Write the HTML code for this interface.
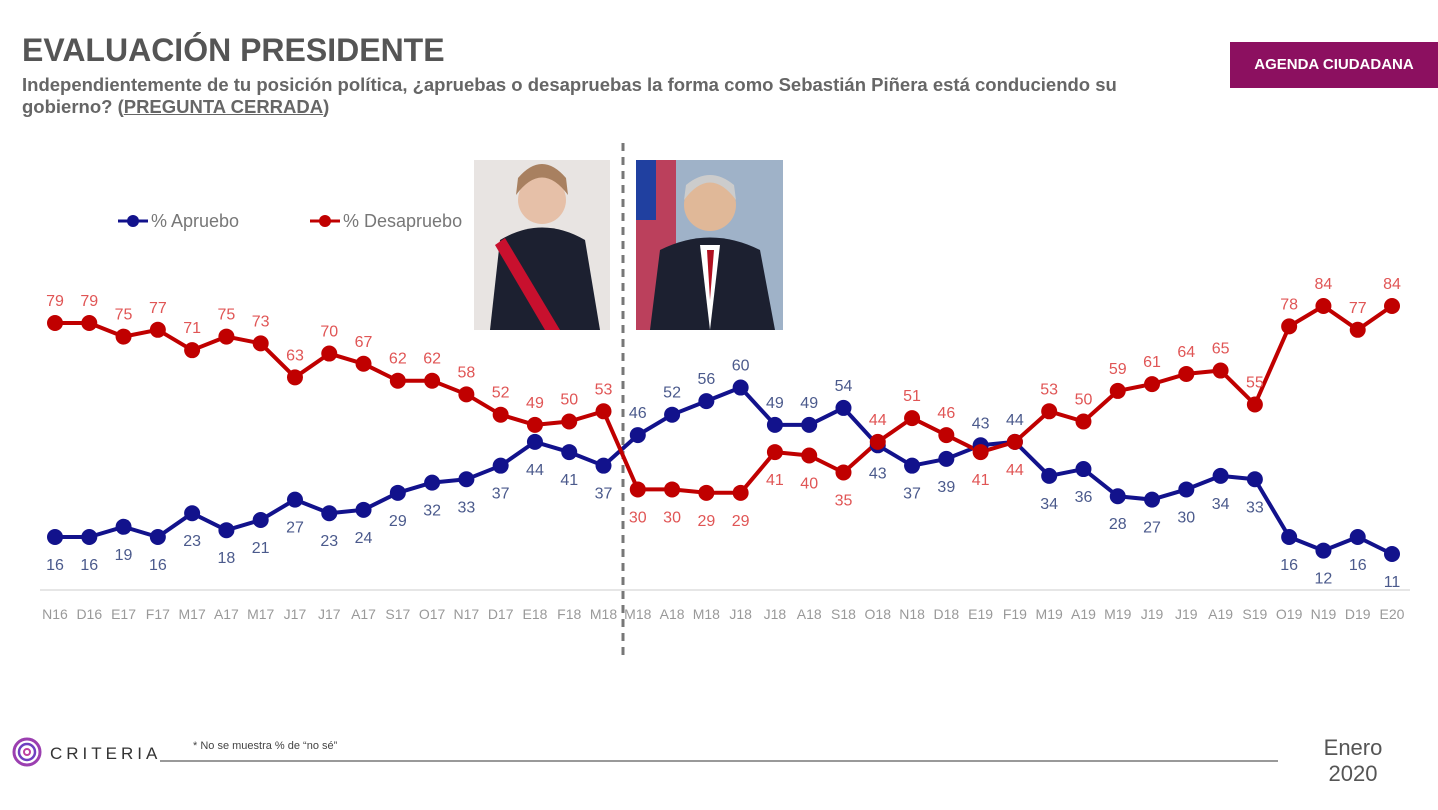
<!DOCTYPE html>
<html><head><meta charset="utf-8"><style>
body{margin:0;width:1438px;height:810px;background:#fff;font-family:"Liberation Sans",sans-serif;overflow:hidden;position:relative}
.t{position:absolute;left:22px;top:32px;font-size:32px;font-weight:bold;color:#555;letter-spacing:0px}
.s{position:absolute;left:22px;top:74px;font-size:18.5px;font-weight:bold;color:#666;line-height:22px;width:1140px}
.badge{position:absolute;left:1230px;top:42px;width:208px;height:46px;background:#8c1060;color:#fff;font-weight:bold;font-size:15px;line-height:46px;text-align:center}
</style></head><body>
<div class="t">EVALUACIÓN PRESIDENTE</div>
<div class="s">Independientemente de tu posición política, ¿apruebas o desapruebas la forma como Sebastián Piñera está conduciendo su gobierno? (<u>PREGUNTA CERRADA</u>)</div>
<div class="badge">AGENDA CIUDADANA</div>
<svg id="c" width="1438" height="810" style="position:absolute;left:0;top:0"></svg>
<script>
const A=[16,16,19,16,23,18,21,27,23,24,29,32,33,37,44,41,37,46,52,56,60,49,49,54,43,37,39,43,44,34,36,28,27,30,34,33,16,12,16,11];
const D=[79,79,75,77,71,75,73,63,70,67,62,62,58,52,49,50,53,30,30,29,29,41,40,35,44,51,46,41,44,53,50,59,61,64,65,55,78,84,77,84];
const L="N16 D16 E17 F17 M17 A17 M17 J17 J17 A17 S17 O17 N17 D17 E18 F18 M18 M18 A18 M18 J18 J18 A18 S18 O18 N18 D18 E19 F19 M19 A19 M19 J19 J19 A19 S19 O19 N19 D19 E20".split(" ");
const X=i=>55+i*(1337/39), Y=v=>537-(v-16)*3.397;
const aUp=new Set([17,18,19,20,21,22,23,27,28]);
const dDown=new Set([17,18,19,20,21,22,23,27,28]);
let s='';
s+='<rect x="474" y="160" width="136" height="170" fill="#e8e4e2"/><path d="M490 330 L500 240 Q542 215 585 240 L600 330Z" fill="#1c2030"/><path d="M505 238 L560 330 L545 330 L495 245Z" fill="#c8102e"/><circle cx="542" cy="200" r="24" fill="#e6c0a8"/><path d="M516 195 Q542 160 568 195 L566 178 Q542 150 518 178Z" fill="#a88060"/>';
s+='<rect x="636" y="160" width="147" height="170" fill="#9fb2c8"/><rect x="636" y="160" width="40" height="170" fill="#c8102e" opacity="0.7"/><rect x="636" y="160" width="20" height="60" fill="#2040a0"/><path d="M650 330 L660 250 Q710 225 760 250 L775 330Z" fill="#1c2030"/><path d="M700 245 L710 330 L720 245Z" fill="#fff"/><path d="M707 250 L710 300 L714 250Z" fill="#b01020"/><circle cx="710" cy="205" r="26" fill="#e0b898"/><path d="M684 200 Q710 165 736 200 L734 185 Q710 165 686 185Z" fill="#ccc"/>';
s+='<line x1="40" y1="590" x2="1410" y2="590" stroke="#ddd" stroke-width="1.5"/>';
s+='<line x1="623" y1="143" x2="623" y2="655" stroke="#777" stroke-width="3" stroke-dasharray="8,6"/>';
function path(arr){let p='';arr.forEach((v,i)=>{p+=(i?'L':'M')+X(i).toFixed(1)+' '+Y(v).toFixed(1)});return p}
s+=`<path d="${path(A)}" fill="none" stroke="#12128c" stroke-width="4" stroke-linejoin="round"/>`;
s+=`<path d="${path(D)}" fill="none" stroke="#c00000" stroke-width="4" stroke-linejoin="round"/>`;
A.forEach((v,i)=>{s+=`<circle cx="${X(i)}" cy="${Y(v)}" r="8" fill="#12128c"/>`;const y=aUp.has(i)?Y(v)-17:Y(v)+33;s+=`<text x="${X(i)}" y="${y}" fill="#4b5a8c" font-size="16" text-anchor="middle">${v}</text>`});
D.forEach((v,i)=>{s+=`<circle cx="${X(i)}" cy="${Y(v)}" r="8" fill="#c00000"/>`;const y=dDown.has(i)?Y(v)+33:Y(v)-17;s+=`<text x="${X(i)}" y="${y}" fill="#e05555" font-size="16" text-anchor="middle">${v}</text>`});
L.forEach((l,i)=>{s+=`<text x="${X(i)}" y="619" fill="#999" font-size="14" text-anchor="middle">${l}</text>`});
s+='<line x1="118" y1="221" x2="148" y2="221" stroke="#12128c" stroke-width="3"/><circle cx="133" cy="221" r="6" fill="#12128c"/><text x="151" y="227" fill="#777" font-size="18">% Apruebo</text>';
s+='<line x1="310" y1="221" x2="340" y2="221" stroke="#c00000" stroke-width="3"/><circle cx="325" cy="221" r="6" fill="#c00000"/><text x="343" y="227" fill="#777" font-size="18">% Desapruebo</text>';
s+='<circle cx="27" cy="752" r="13" fill="none" stroke="#9b3fb0" stroke-width="3"/><circle cx="27" cy="752" r="8" fill="none" stroke="#7040c0" stroke-width="2.5"/><circle cx="27" cy="752" r="3" fill="none" stroke="#c040a0" stroke-width="2"/>';
s+='<text x="50" y="759" fill="#333" font-size="17" letter-spacing="4">CRITERIA</text>';
s+='<line x1="160" y1="761" x2="1278" y2="761" stroke="#333" stroke-width="1"/>';
s+='<text x="193" y="749" fill="#444" font-size="11">* No se muestra % de “no sé”</text>';
s+='<text x="1353" y="755" fill="#555" font-size="22" text-anchor="middle">Enero</text><text x="1353" y="781" fill="#555" font-size="22" text-anchor="middle">2020</text>';
document.getElementById('c').innerHTML=s;
</script>
</body></html>
